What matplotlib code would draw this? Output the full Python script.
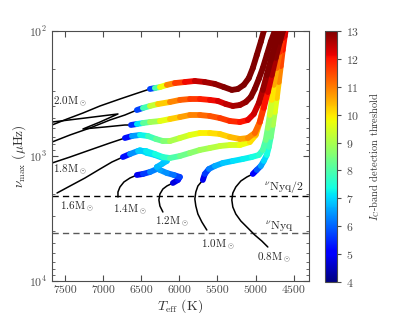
import numpy as np
import matplotlib
matplotlib.use('Agg')
import matplotlib.pyplot as plt
from matplotlib.collections import LineCollection
from matplotlib.colors import Normalize
from matplotlib.cm import ScalarMappable

plt.rcParams['mathtext.fontset'] = 'cm'
plt.rcParams['font.family'] = 'serif'
plt.rcParams['font.serif'] = ['cmr10']
plt.rcParams['axes.formatter.use_mathtext'] = True

# ---------------- data ----------------
nu_nyq = 4166.67  # muHz

# black parts (threshold brighter than 4 mag): Teff [K], numax [muHz]
bA_t = [7853, 7670, 7473, 7264, 7041, 6779, 6583, 6386]
bA_n = [619, 565, 506, 453, 398, 350, 319, 291]
bB_t = [7853, 7670, 7434, 7172, 6910, 6714, 6557]
bB_n = [847, 773, 679, 597, 515, 470, 429]
bZ_t = [7853, 7670, 7238, 6805, 7041, 7264, 6976, 6714, 6635]
bZ_n = [555, 535, 497, 461, 535, 608, 586, 565, 565]
bD_t = [7853, 7670, 7434, 7172, 6910, 6714]
bD_n = [1247, 1138, 1019, 895, 787, 718]
bE_t = [7604, 7434, 7238, 7041, 6884, 6740]
bE_n = [1977, 1738, 1500, 1271, 1117, 1019]
bF_t = [6805, 6805, 6779, 6727, 6648, 6557]
bF_n = [2128, 1941, 1770, 1614, 1500, 1419]
bG_t = [6216, 6255, 6268, 6255, 6216, 6164, 6085]
bG_n = [2805, 2512, 2249, 2014, 1837, 1738, 1644]
bH_t = [5640, 5705, 5757, 5784, 5797, 5784, 5757, 5692]
bH_n = [3908, 3373, 2911, 2512, 2208, 1941, 1738, 1556]
bI_t = [4840, 4919, 5011, 5102, 5194, 5260, 5299, 5312, 5299, 5260, 5194, 5115, 5037]
bI_n = [5346, 4786, 4285, 3767, 3311, 2911, 2559, 2249, 1977, 1770, 1585, 1472, 1393]

# coloured parts: Teff [K], numax [muHz], I_C detection threshold [mag]
cA_t = [6386, 6321, 6255, 6164, 6059, 5928, 5797, 5666, 5535, 5417, 5312, 5233, 5155, 5089, 5037, 4985, 4932, 4893, 4867]
cA_n = [291, 286, 281, 270, 261, 256, 251, 256, 265, 281, 296, 291, 270, 238, 198, 156, 122, 100, 85]
cA_m = [4.5, 7.0, 9.0, 10.5, 11.3, 11.9, 12.3, 12.6, 12.8, 12.9, 13, 13, 13, 13, 13, 13, 13, 13, 13]

cB_t = [6557, 6478, 6386, 6281, 6124, 5993, 5862, 5731, 5600, 5495, 5391, 5299, 5207, 5129, 5063, 5011, 4958, 4906, 4854, 4801, 4749, 4723]
cB_n = [429, 413, 398, 384, 370, 356, 350, 350, 356, 363, 384, 398, 391, 370, 337, 291, 242, 198, 156, 122, 100, 85]
cB_m = [4.5, 7.0, 8.8, 9.8, 10.7, 11.1, 11.5, 11.8, 12.0, 12.2, 12.4, 12.6, 12.7, 12.8, 12.9, 13, 13, 13, 13, 13, 13, 13]

cC_t = [6635, 6557, 6478, 6386, 6255, 6124, 5993, 5862, 5731, 5600, 5469, 5338, 5207, 5102, 5024, 4958, 4906, 4854, 4801, 4749, 4696, 4670]
cC_n = [565, 555, 545, 535, 525, 506, 488, 470, 470, 479, 497, 525, 535, 515, 461, 377, 296, 225, 171, 132, 104, 85]
cC_m = [4.5, 6.5, 7.8, 8.5, 9.3, 10.0, 10.5, 10.8, 11.1, 11.3, 11.5, 11.7, 11.9, 12.1, 12.3, 12.5, 12.7, 12.9, 13, 13, 13, 13]

cD_t = [6714, 6622, 6517, 6412, 6308, 6216, 6124, 5993, 5862, 5731, 5600, 5469, 5338, 5207, 5102, 5011, 4945, 4893, 4840, 4788, 4736, 4683, 4644, 4618]
cD_n = [718, 692, 679, 692, 731, 759, 759, 718, 679, 655, 655, 667, 705, 731, 718, 655, 535, 413, 308, 225, 164, 122, 100, 85]
cD_m = [4.5, 6.0, 7.0, 7.6, 8.0, 8.4, 8.8, 9.2, 9.5, 9.8, 10.0, 10.1, 10.3, 10.5, 10.7, 11.0, 11.4, 11.8, 12.2, 12.5, 12.8, 13, 13, 13]

cE_t = [6740, 6648, 6543, 6439, 6321, 6216, 6124, 5993, 5862, 5731, 5600, 5469, 5338, 5207, 5076, 4998, 4945, 4893, 4840, 4788, 4736, 4683, 4631, 4605]
cE_n = [1019, 964, 912, 912, 964, 1019, 1038, 1000, 946, 895, 863, 832, 817, 817, 773, 679, 535, 391, 286, 205, 153, 118, 95, 85]
cE_m = [4.5, 6.0, 6.8, 7.1, 7.3, 7.5, 7.8, 8.2, 8.5, 8.8, 9.0, 9.2, 9.4, 9.6, 9.9, 10.2, 10.6, 11.0, 11.5, 12.0, 12.4, 12.7, 13, 13]

cF_t = [6557, 6478, 6386, 6295]
cF_n = [1419, 1393, 1343, 1271]
cF_m = [4.5, 5.3, 6.0, 6.5]

cG_t = [6085, 6019, 5993, 6072, 6164, 6255, 6295, 6229, 6164, 6216, 6321, 6426, 6517]
cG_n = [1644, 1556, 1472, 1419, 1368, 1294, 1225, 1159, 1096, 1038, 982, 946, 895]
cG_m = [4.5, 5.0, 5.5, 6.0, 6.3, 6.5, 6.7, 6.8, 6.9, 7.0, 7.0, 7.1, 7.1]

cH_t = [5692, 5666, 5613, 5535, 5430, 5299, 5168, 5050, 4958, 4906, 4867, 4840, 4814, 4788, 4762, 4723, 4683, 4644, 4605, 4592]
cH_n = [1556, 1393, 1271, 1202, 1138, 1096, 1057, 1019, 982, 895, 745, 597, 470, 356, 270, 198, 147, 114, 91, 82]
cH_m = [4.5, 5.3, 6.0, 6.5, 6.8, 7.0, 7.2, 7.3, 7.5, 7.8, 8.2, 8.6, 9.1, 9.7, 10.3, 10.9, 11.5, 12.0, 12.4, 12.6]

cI_t = [5037, 4985, 4932, 4893, 4854, 4827, 4801, 4775, 4749, 4723, 4696, 4670, 4644, 4618, 4592, 4578]
cI_n = [1393, 1294, 1202, 1096, 982, 847, 705, 565, 445, 344, 256, 191, 142, 110, 88, 79]
cI_m = [4.5, 5.5, 6.3, 6.9, 7.2, 7.6, 8.1, 8.7, 9.3, 9.9, 10.6, 11.2, 11.8, 12.2, 12.6, 12.8]

mass_labels = ['2.0', '1.8', '1.6', '1.4', '1.2', '1.0', '0.8']
label_t = [7657, 7657, 7565, 6871, 6321, 5718, 4985]
label_n = [370, 1294, 2559, 2704, 3373, 5152, 6546]

cbar_ticks = [4, 5, 6, 7, 8, 9, 10, 11, 12, 13]
x_ticks = [7500, 7000, 6500, 6000, 5500, 5000, 4500]

# ---------------- figure ----------------
fig = plt.figure(figsize=(4.15, 3.13), dpi=100)
ax = fig.add_axes([52/415, 1-281/313, 257/415, 250/313])
cax = fig.add_axes([325/415, 1-282/313, 12/415, 251/313])

cmap = plt.get_cmap('jet')
norm = Normalize(4, 13)

blacks = [(bA_t, bA_n), (bB_t, bB_n), (bZ_t, bZ_n), (bD_t, bD_n), (bE_t, bE_n),
          (bF_t, bF_n), (bG_t, bG_n), (bH_t, bH_n), (bI_t, bI_n)]
for t, n in blacks:
    ax.plot(t, n, color='black', lw=1.1, zorder=2, solid_capstyle='round',
            solid_joinstyle='round')

colours = [(cI_t, cI_n, cI_m), (cH_t, cH_n, cH_m), (cF_t, cF_n, cF_m), (cG_t, cG_n, cG_m),
           (cE_t, cE_n, cE_m), (cD_t, cD_n, cD_m), (cC_t, cC_n, cC_m), (cB_t, cB_n, cB_m),
           (cA_t, cA_n, cA_m)]
for t, n, m in colours:
    pts = np.column_stack([t, n]).astype(float)
    segs = np.stack([pts[:-1], pts[1:]], axis=1)
    m = np.asarray(m, float)
    lc = LineCollection(segs, cmap=cmap, norm=norm, linewidths=4.2, zorder=3)
    lc.set_array(0.5 * (m[:-1] + m[1:]))
    lc.set_capstyle('round')
    lc.set_joinstyle('round')
    ax.add_collection(lc)

ax.axhline(nu_nyq / 2, color='black', lw=1.0, ls=(0, (4.5, 3)), zorder=1)
ax.axhline(nu_nyq, color='0.35', lw=1.0, ls=(0, (4.5, 3)), zorder=1)

for lab, t, n in zip(mass_labels, label_t, label_n):
    ax.text(t, n, lab + r'M$_\odot$', fontsize=8, ha='left', va='center', color='0.15')
ax.text(4893, 1770, r'$^{\nu}\mathrm{Nyq}/2$', fontsize=8.5, ha='left', va='center', color='0.15')
ax.text(4880, 3698, r'$^{\nu}\mathrm{Nyq}$', fontsize=8.5, ha='left', va='center', color='0.15')

ax.set_yscale('log')
ax.set_xlim(7670, 4300)
ax.set_ylim(1e4, 1e2)
ax.set_xticks(x_ticks)
ax.set_xticklabels([str(v) for v in x_ticks])
ax.tick_params(which='both', direction='in', top=True, right=True, labelsize=8.5,
               labelcolor='0.3', color='0.3')
ax.tick_params(which='major', length=4)
ax.tick_params(which='minor', length=2)
for s in ax.spines.values():
    s.set_color('0.3')
ax.set_xlabel(r'$T_{\rm eff}$ (K)', fontsize=10, color='0.2', labelpad=1)
ax.set_ylabel(r'$\nu_{\rm max}$ ($\mu$Hz)', fontsize=9.5, color='0.2', labelpad=1)

sm = ScalarMappable(norm=norm, cmap=cmap)
cb = fig.colorbar(sm, cax=cax, ticks=cbar_ticks)
cb.ax.tick_params(labelsize=8.5, labelcolor='0.3', color='0.3', length=3)
cb.outline.set_edgecolor('0.3')
cb.set_label(r'$I_{\rm C}$-band detection threshold', fontsize=7.5, color='0.2', labelpad=6)

fig.savefig('out.png', dpi=100)
